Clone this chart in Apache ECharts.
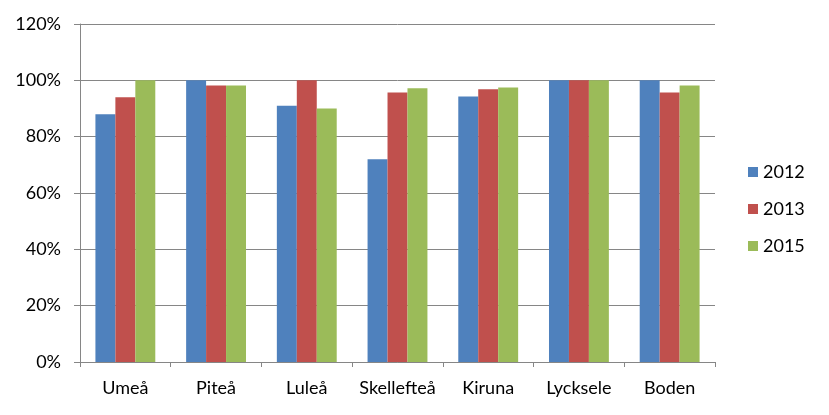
<!DOCTYPE html>
<html><head><meta charset="utf-8">
<script src="https://cdn.jsdelivr.net/npm/echarts@6/dist/echarts.min.js"></script>
<style>html,body{margin:0;padding:0;background:#fff}#c{width:829px;height:415px}</style>
</head><body><div id="c"></div>
<script>
const categories = ['Umeå','Piteå','Luleå','Skellefteå','Kiruna','Lycksele','Boden'];
const s2012 = [88, 100, 91, 72, 94.3, 100, 100];
const s2013 = [94, 98.2, 100, 95.7, 96.8, 100, 95.7];
const s2015 = [100, 98.2, 90, 97.2, 97.5, 100, 98.2];
const seriesNames = ['2012','2013','2015'];
const colors = ['#4F81BD','#C0504D','#9BBB59'];
const font = 'Lato, "Open Sans", sans-serif';
const chart = echarts.init(document.getElementById('c'));
chart.setOption({
  animation:false,
  color: colors,
  grid:{left:80,right:114,top:24,bottom:53},
  legend:{
    orient:'vertical', left:743, top:158, itemWidth:10, itemHeight:10, itemGap:19,
    icon:'rect',
    textStyle:{fontFamily:font,fontSize:18,color:'#000'},
    data: seriesNames
  },
  xAxis:{
    type:'category', data:categories,
    axisLine:{lineStyle:{color:'#868686'}},
    axisTick:{show:true,length:5,lineStyle:{color:'#868686'}},
    axisLabel:{interval:0,fontFamily:font,fontSize:18,color:'#000',margin:17}
  },
  yAxis:{
    type:'value', min:0, max:120, interval:20,
    axisLine:{show:true,lineStyle:{color:'#868686'}},
    axisTick:{show:true,length:6,lineStyle:{color:'#868686'}},
    splitLine:{lineStyle:{color:'#868686'}},
    axisLabel:{fontFamily:font,fontSize:18,color:'#000',margin:19,formatter:'{value}%'}
  },
  series:[
    {name:seriesNames[0],type:'bar',data:s2012,barGap:0,barCategoryGap:'34%'},
    {name:seriesNames[1],type:'bar',data:s2013,barGap:0,barCategoryGap:'34%'},
    {name:seriesNames[2],type:'bar',data:s2015,barGap:0,barCategoryGap:'34%'}
  ]
});
</script></body></html>
